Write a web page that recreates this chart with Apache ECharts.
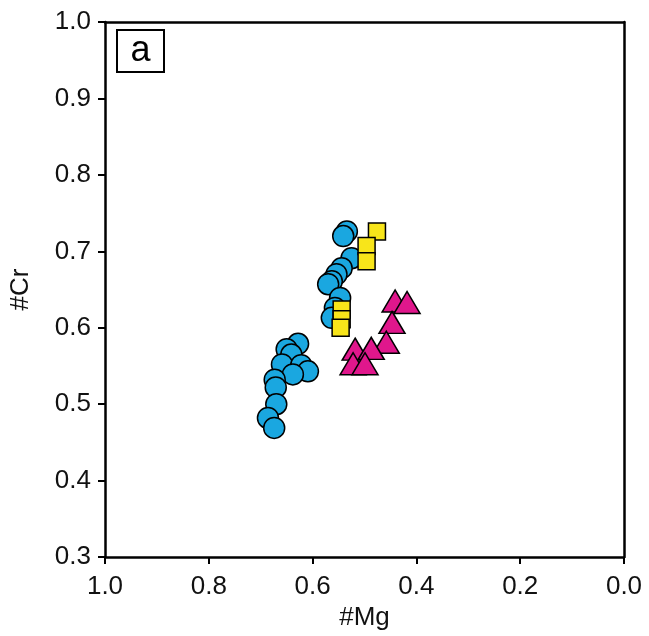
<!DOCTYPE html>
<html>
<head>
<meta charset="utf-8">
<script src="https://cdn.jsdelivr.net/npm/echarts@6/dist/echarts.min.js"></script>
<style>
html, body { margin: 0; padding: 0; background: #fff; }
#chartMain { width: 649px; height: 636px; }
</style>
</head>
<body>
<div id="chartMain"></div>
<script>
// #Mg, #Cr pairs
var circles = [
    [0.534, 0.726], [0.541, 0.720], [0.525, 0.691], [0.544, 0.678], [0.554, 0.670],
    [0.563, 0.661], [0.570, 0.657], [0.547, 0.639], [0.557, 0.626], [0.563, 0.613],
    [0.628, 0.579], [0.650, 0.572], [0.641, 0.565], [0.659, 0.552], [0.622, 0.551],
    [0.609, 0.543], [0.638, 0.539], [0.673, 0.532], [0.671, 0.522], [0.670, 0.500],
    [0.686, 0.482], [0.674, 0.469]
];
var squares = [
    [0.476, 0.726], [0.496, 0.707], [0.496, 0.687],
    [0.544, 0.624], [0.544, 0.611], [0.546, 0.600]
];
var triangles = [
    [0.441, 0.635], [0.418, 0.633], [0.447, 0.607], [0.458, 0.581],
    [0.518, 0.572], [0.487, 0.573], [0.522, 0.553], [0.499, 0.553]
];
var panelLabel = 'a';

var font = 'Liberation Sans, Arial, sans-serif';
var myChart = echarts.init(document.getElementById('chartMain'));

function markStyle(color) {
    return { color: color, borderColor: '#000', borderWidth: 1.5, opacity: 1 };
}

// plain axis line only, used for the top and right side of the frame
function frameAxis(extra) {
    var a = {
        type: 'value', min: 0, max: 1,
        axisLine: { show: true, onZero: false, lineStyle: { color: '#000', width: 2.5 } },
        axisTick: { show: false }, axisLabel: { show: false }, splitLine: { show: false }
    };
    return Object.assign(a, extra);
}

function fmt(v) { return v.toFixed(1); }
var nameStyle = { fontFamily: font, fontSize: 26, color: '#111' };
var lineStyle = { show: true, onZero: false, lineStyle: { color: '#000', width: 2.5 } };
var tickStyle = { show: true, inside: false, length: 7, lineStyle: { color: '#000', width: 2 } };

var option = {
    animation: false,
    backgroundColor: '#fff',
    grid: { left: 105, right: 25, top: 22, bottom: 78 },
    graphic: [{
        type: 'group', left: 116, top: 29,
        children: [
            { type: 'rect', shape: { x: 0, y: 0, width: 47, height: 42 },
              style: { fill: '#fff', stroke: '#000', lineWidth: 2 } },
            { type: 'text', x: 23.5, y: 21,
              style: { text: panelLabel, font: '36px ' + font, fill: '#000', align: 'center', verticalAlign: 'middle' } }
        ]
    }],
    xAxis: [{
        type: 'value', inverse: true, min: 0, max: 1, interval: 0.2, position: 'bottom',
        name: '#Mg', nameLocation: 'middle', nameGap: 40, nameTextStyle: nameStyle,
        axisLine: lineStyle, axisTick: tickStyle,
        axisLabel: { fontFamily: font, fontSize: 26, color: '#111', margin: 17, formatter: fmt },
        splitLine: { show: false }
    }, frameAxis({ position: 'top' })],
    yAxis: [{
        type: 'value', min: 0.3, max: 1.0, interval: 0.1, position: 'left',
        name: '#Cr', nameLocation: 'middle', nameGap: 71, nameRotate: 90, nameTextStyle: nameStyle,
        axisLine: lineStyle, axisTick: tickStyle,
        axisLabel: { fontFamily: font, fontSize: 26, color: '#111', margin: 14, formatter: fmt },
        splitLine: { show: false }
    }, frameAxis({ position: 'right' })],
    series: [
        { type: 'scatter', name: 'circles', symbol: 'circle', symbolSize: 21,
          itemStyle: markStyle('#1aa7e0'), data: circles },
        { type: 'scatter', name: 'squares', symbol: 'rect', symbolSize: 17,
          itemStyle: markStyle('#f8e51a'), data: squares },
        { type: 'scatter', name: 'triangles', symbol: 'triangle', symbolSize: [26, 22],
          itemStyle: markStyle('#e0178c'), data: triangles }
    ]
};

myChart.setOption(option);
</script>
</body>
</html>
